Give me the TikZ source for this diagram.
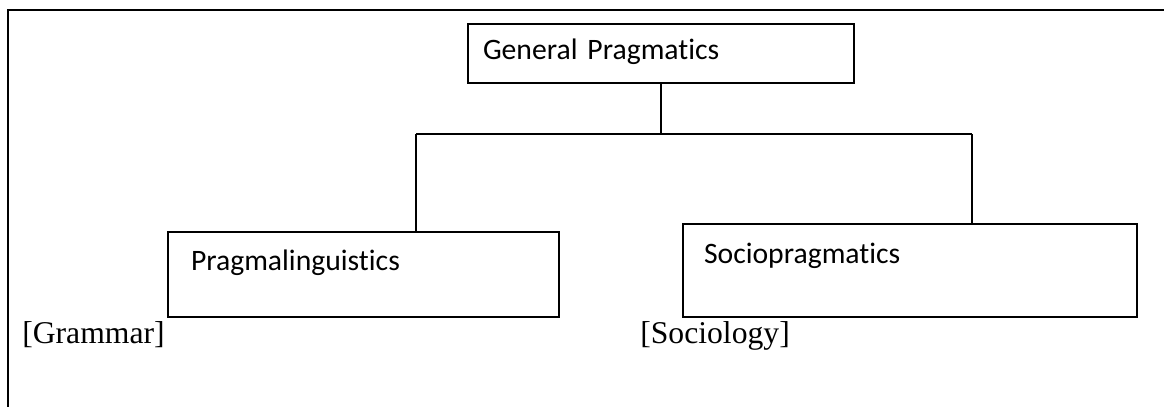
\documentclass[tikz,border=0pt]{standalone}
\usepackage{fontspec}
\setmainfont{Carlito}[Ligatures=NoCommon]
\newfontfamily\timesfont{Liberation Serif}
\usepackage{tikz}
\usetikzlibrary{positioning,calc}

\begin{document}
\begin{tikzpicture}[x=0.75pt,y=-0.75pt,
    box/.style={draw,line width=1.5pt,anchor=north west,align=left,inner ysep=0pt,
      font=\fontsize{22.25}{26}\selectfont},
    tag/.style={anchor=base west,inner sep=0pt,font=\timesfont\fontsize{23.75}{28}\selectfont},
    link/.style={line width=1.2pt}]
        \useasboundingbox (0,0) rectangle (1164,407);
        \draw[line width=2.2pt] (8,407) -- (8,10) -- (1164,10);
        \node[box,inner xsep=11.25pt,text width=267pt,text height=26.25pt,text depth=18pt] (gp) at (467,23) {General Pragmatics};
        \node[box,inner xsep=17.25pt,text width=258.75pt,text height=28.5pt,text depth=35.25pt] (pl) at (167,231) {Pragmalinguistics};
        \node[box,inner xsep=15.75pt,text width=309pt,text height=29.25pt,text depth=40.5pt] (sp) at (682,223) {Sociopragmatics};
        \coordinate (jl) at (416,134);
        \coordinate (jr) at (972,134);
        \draw[link] (gp.south) -- (gp.south |- jl);
        \draw[link] (jl) -- (jr);
        \draw[link] (jl) -- (jl |- pl.north);
        \draw[link] (jr) -- (jr |- sp.north);
        \node[tag] (gr) at (22,343) {[Grammar]};
        \node[tag] (so) at (640,343) {[Sociology]};
      \end{tikzpicture}
\end{document}
